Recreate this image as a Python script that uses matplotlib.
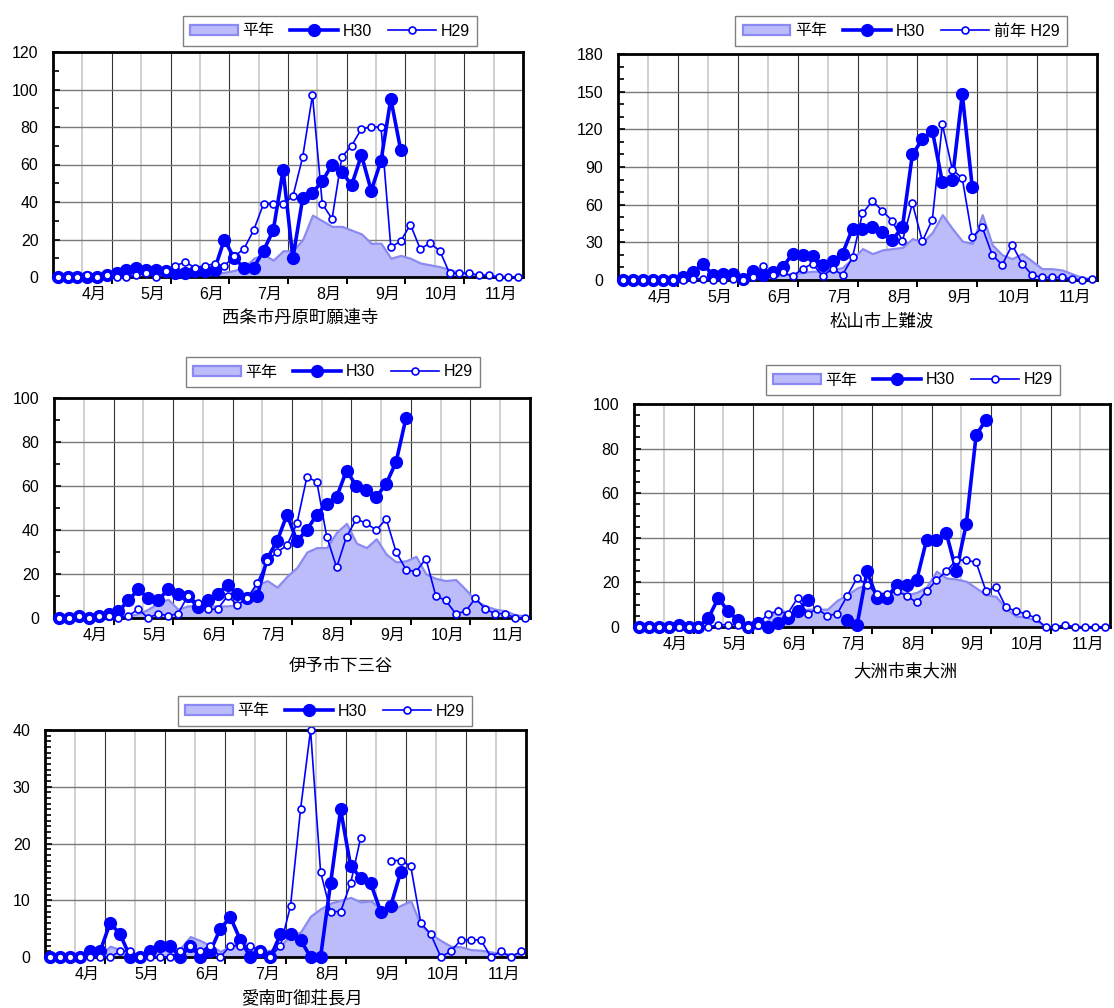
import numpy as np
import matplotlib
matplotlib.use('Agg')
import matplotlib.pyplot as plt
from matplotlib.ticker import MultipleLocator

plt.rcParams['font.family'] = ['Liberation Sans', 'Noto Sans CJK JP', 'DejaVu Sans']

nan = np.nan

# 半旬ごと（1か月6点）、4月〜11月
months = ['4月', '5月', '6月', '7月', '8月', '9月', '10月', '11月']

# 西条市丹原町願連寺
avg_saijo = [0, 0, 0, 0, 0, 0, 0.5, 0.5, 0.5, 0.5, 0.5, 0.5,
             0.8, 1, 1, 1.2, 2, 2.5, 3.5, 5, 10, 12, 9, 14,
             14, 20, 33, 30, 27, 27, 25, 23, 18, 18, 10, 11.5,
             10, 7.5, 6.5, 5.5, 4, 2.5, 1.5, 1, 0.5, 0.3, 0.2, 0.2]
h30_saijo = [0, 0, 0, 0, 0, 1, 2, 4, 5, 4, 4, 3,
             2, 2, 3, 3, 4, 20, 10, 5, 5, 14, 25, 57,
             10, 42, 45, 51, 60, 56, 49, 65, 46, 62, 95, 68]
h29_saijo = [0, 0, 0, 1, 0, 1, 0, 0, 1, 2, 0, 3,
             6, 8, 5, 6, 7, 6, 11, 15, 25, 39, 39, 39,
             43, 64, 97, 39, 31, 64, 70, 79, 80, 80, 16, 19,
             28, 15, 18, 14, 2, 2, 2, 1, 1, 0, 0, 0]

# 松山市上難波
avg_matsuyama = [0, 0, 0, 0, 0, 0, 0.5, 0.5, 0.5, 0.5, 0.5, 0.8,
                 1, 1.5, 2.5, 3, 4, 5, 6, 7, 7, 8, 10, 17,
                 25, 21, 24, 25, 26, 33, 30, 38, 52, 41, 31, 29,
                 52, 28, 20, 17, 21, 15, 9, 9, 8, 5, 2, 1]
h30_matsuyama = [0, 0, 0, 0, 0, 0, 2, 6, 13, 4, 5, 5,
                 1, 7, 4, 6, 10, 21, 20, 19, 12, 15, 21, 41,
                 41, 42, 38, 32, 42, 100, 112, 119, 78, 80, 148, 74]
h29_matsuyama = [0, 0, 0, 0, 0, 0, 0, 1, 1, 0, 0, 1,
                 0, 2, 11, 4, 6, 3, 9, 13, 3, 9, 4, 18,
                 53, 63, 55, 47, 31, 61, 31, 48, 124, 88, 81, 34,
                 42, 20, 12, 28, 13, 4, 2, 2, 2, 1, 0, 1]

# 伊予市下三谷
avg_iyo = [0, 0, 0, 0, 0.3, 0.5, 0.5, 1, 2, 4, 7, 8.5,
           4, 5.5, 5.5, 5.5, 5.5, 5.5, 6, 10, 15, 17, 14, 19,
           23, 30, 32, 32, 39, 43, 34, 32, 36, 29, 25.5, 26,
           28, 20, 18, 17, 17.5, 13, 8, 5.5, 4, 3.3, 1.5, 1]
h30_iyo = [0, 0, 1, 0, 1, 2, 3, 8, 13, 9, 8, 13,
           11, 10, 5, 8, 11, 15, 11, 9, 10, 27, 35, 47,
           35, 40, 47, 52, 55, 67, 60, 58, 55, 61, 71, 91]
h29_iyo = [0, 0, 1, 0, 1, 1, 0, 1, 4, 0, 2, 1,
           2, 10, 7, 4, 4, 10, 6, 9, 16, 26, 30, 33,
           43, 64, 62, 37, 23, 37, 45, 43, 40, 45, 30, 22,
           21, 27, 10, 8, 2, 3, 9, 4, 2, 2, 0, 0]

# 大洲市東大洲
avg_ozu = [0, 0, 0, 0, 0, 0, 0, 0, 0, 0, 0.3, 0.5,
           1, 3, 9, 6, 7, 8, 8, 8, 12, 14.5, 17.5, 19,
           14.5, 13.7, 17, 14.5, 15.5, 18, 25, 22, 21.5, 20.5, 17.5, 14.5,
           13.7, 8.5, 4.8, 4.5, 3, 0.3, 0, 0, 0, 0, 0, 0]
h30_ozu = [0, 0, 0, 0, 1, 0, 0, 4, 13, 7, 3, 0,
           2, 0, 2, 4, 7, 12, nan, nan, nan, 3, 1, 25,
           13, 13, 19, 19, 21, 39, 39, 42, 25, 46, 86, 93]
h29_ozu = [0, 0, 0, 0, 0, 0, 0, 0, 1, 1, 1, 0,
           1, 6, 7, 6, 13, 6, 8, 5, 6, 14, 22, 19,
           15, 15, 16, 14, 11, 16, 21, 25, 30, 30, 29, 16,
           18, 9, 7, 6, 4, 0, 0, 1, 0, 0, 0, 0]

# 愛南町御荘長月
avg_ainan = [0, 0, 0, 0, 0, 0.3, 1.9, 1.3, 0.6, 0.6, 0.9, 1.2,
             1.5, 1.5, 3.6, 2.9, 2, 1, 1.9, 1.9, 1.2, 1, 1.2, 2,
             3.8, 4.4, 7.2, 8.5, 9.5, 10, 10.5, 9.7, 9.9, 8.5, 8.2, 9.1,
             9.9, 5.6, 4.1, 2.9, 1.9, 1.8, 1.3, 1.2, 0.9, 0.6, 0.5, 0.5]
h30_ainan = [0, 0, 0, 0, 1, 1, 6, 4, 0, 0, 1, 2,
             2, 0, 2, 0, 1, 5, 7, 3, 0, 1, 0, 4,
             4, 3, 0, 0, 13, 26, 16, 14, 13, 8, 9, 15]
h29_ainan = [0, 0, 0, 0, 0, 0, 0, 1, 1, 0, 0, 0,
             0, 1, 2, 1, 2, 0, 2, 2, 2, 1, 0, 2,
             9, 26, 40, 15, 8, 8, 13, 21, nan, nan, 17, 17,
             16, 6, 4, 0, 1, 3, 3, 3, 0, 1, 0, 1]

BLUE = '#0000ff'
AREA_FACE = '#bcbcfa'
AREA_EDGE = '#8a8af2'

W, H = 1114, 1008
fig = plt.figure(figsize=(W / 100, H / 100), dpi=100)


def add_ax(left, top, right, bottom):
    return fig.add_axes([left / W, 1 - bottom / H, (right - left) / W, (bottom - top) / H])


def draw_panel(ax, avg, h30, h29, ymax, ystep, yminor, title, title_xy,
               leg_xy, h29_label='H29'):
    n = len(avg)
    ax.set_xlim(-0.5, n - 0.5)
    ax.set_ylim(0, ymax)

    # グリッド：月の境界は濃く、月の中間は薄く
    for m in range(len(months)):
        ax.axvline(6 * m + 2.5, color='#c8c8c8', lw=1.2, zorder=0.5)
        if m > 0:
            ax.axvline(6 * m - 0.5, color='#333333', lw=0.8, zorder=0.5)
    ax.yaxis.set_major_locator(MultipleLocator(ystep))
    ax.yaxis.set_minor_locator(MultipleLocator(yminor))
    ax.yaxis.grid(True, which='major', color='#7a7a7a', lw=1.0)
    ax.set_axisbelow(True)

    x = np.arange(n)
    fill = ax.fill_between(x, 0, avg, facecolor=AREA_FACE, edgecolor=AREA_EDGE,
                           lw=1.6, zorder=1, label='平年')
    l30, = ax.plot(np.arange(len(h30)), h30, color=BLUE, lw=2.6, marker='o',
                   ms=8.5, mfc=BLUE, mec=BLUE, zorder=3, clip_on=False, label='H30')
    l29, = ax.plot(np.arange(len(h29)), h29, color=BLUE, lw=1.2, marker='o',
                   ms=5, mfc='white', mec=BLUE, mew=1.2, zorder=4, clip_on=False,
                   label=h29_label)

    # x軸：月境界の目盛のみ、ラベルは月末寄せ
    ax.set_xticks([6 * m - 0.5 for m in range(1, len(months))])
    ax.set_xticklabels([])
    ax.tick_params(axis='x', direction='out', length=5, width=1.4, color='black')
    for m, lbl in enumerate(months):
        ax.annotate(lbl, xy=(6 * m + 5.5, 0), xycoords=('data', 'axes fraction'),
                    xytext=(-4, -12.7), textcoords='offset points',
                    ha='right', va='center', fontsize=11.5)

    ax.tick_params(axis='y', which='major', direction='in', length=5, width=1.2,
                   pad=10.5, labelsize=11.5)
    ax.tick_params(axis='y', which='minor', direction='in', length=4, width=1.2)

    for sp in ax.spines.values():
        sp.set_linewidth(2.0)
        sp.set_color('black')

    fig.text(title_xy[0] / W, 1 - title_xy[1] / H, title, ha='center', va='center',
             fontsize=12.5)

    leg = ax.legend([fill, l30, l29], ['平年', 'H30', h29_label], loc='center',
                    bbox_to_anchor=(leg_xy[0] / W, 1 - leg_xy[1] / H),
                    bbox_transform=fig.transFigure, ncol=3, numpoints=1,
                    fancybox=False, framealpha=1, edgecolor='#808080',
                    handlelength=3.0, handleheight=0.6, handletextpad=0.3,
                    columnspacing=1.0, borderpad=0.45, fontsize=11.5)
    leg.get_frame().set_linewidth(1.0)


ax1 = add_ax(53, 52, 523, 277)
draw_panel(ax1, avg_saijo, h30_saijo, h29_saijo, 120, 20, 10,
           '西条市丹原町願連寺', (300, 318), (330, 31))

ax2 = add_ax(618, 54, 1097, 280)
draw_panel(ax2, avg_matsuyama, h30_matsuyama, h29_matsuyama, 180, 30, 10,
           '松山市上難波', (882, 322), (901, 31), h29_label='前年 H29')

ax3 = add_ax(54, 398, 530, 618)
draw_panel(ax3, avg_iyo, h30_iyo, h29_iyo, 100, 20, 10,
           '伊予市下三谷', (341, 666), (333, 372))

ax4 = add_ax(634, 404, 1110, 627)
draw_panel(ax4, avg_ozu, h30_ozu, h29_ozu, 100, 20, 5,
           '大洲市東大洲', (905, 671), (913, 380))

ax5 = add_ax(45, 730, 526, 957)
draw_panel(ax5, avg_ainan, h30_ainan, h29_ainan, 40, 10, 1,
           '愛南町御荘長月', (302, 998), (325, 711))

fig.savefig('out.png', dpi=100)
